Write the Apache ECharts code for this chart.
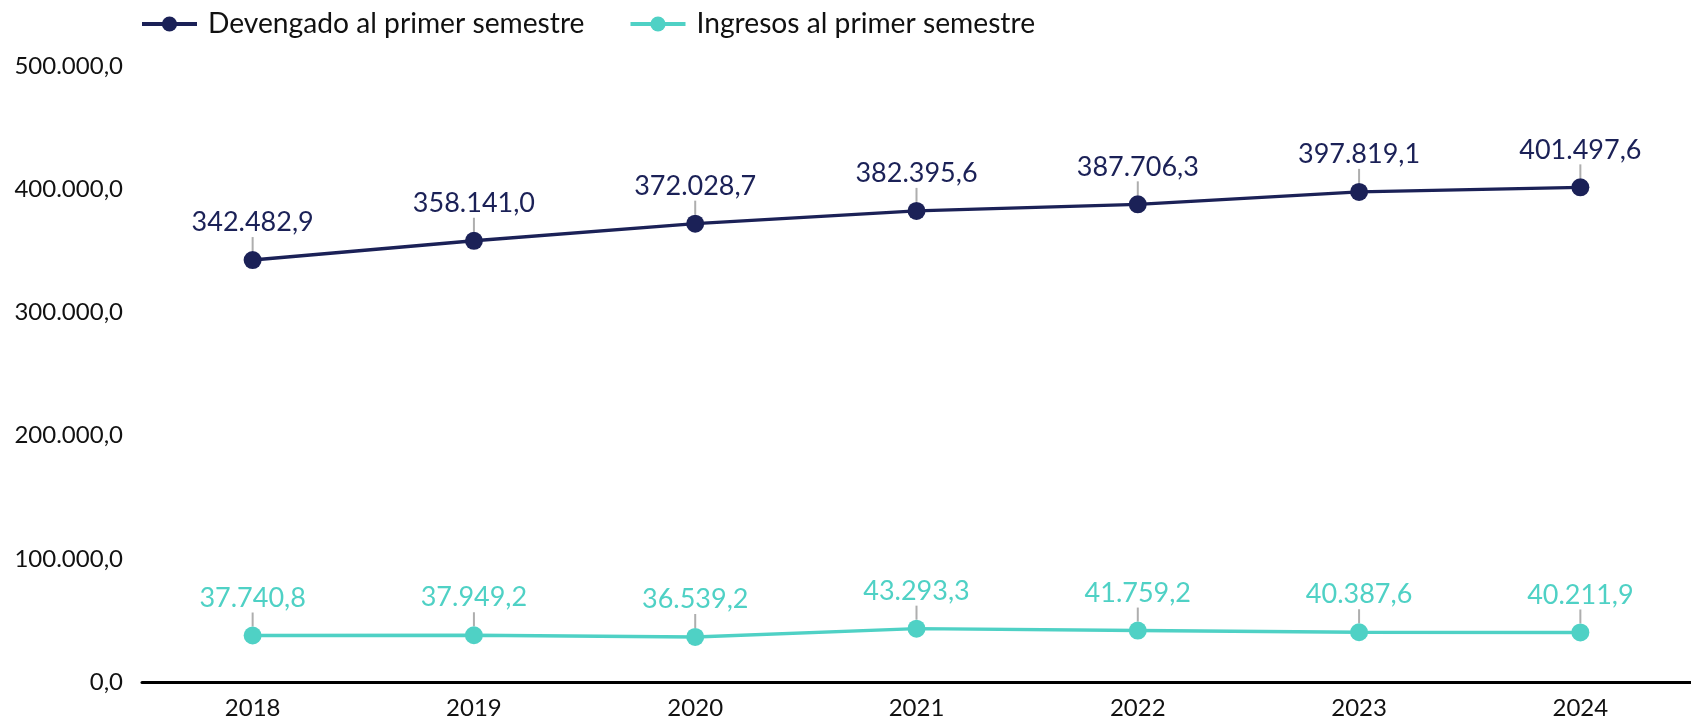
<!DOCTYPE html>
<html>
<head>
<meta charset="utf-8">
<script src="https://cdn.jsdelivr.net/npm/echarts@6/dist/echarts.min.js"></script>
<style>
html,body{margin:0;padding:0;background:#fff;}
#chart{width:1691px;height:723px;}
</style>
</head>
<body>
<div id="chart"></div>
<script>
const categories = ['2018','2019','2020','2021','2022','2023','2024'];
const devengado = [342482.9, 358141.0, 372028.7, 382395.6, 387706.3, 397819.1, 401497.6];
const ingresos = [37740.8, 37949.2, 36539.2, 43293.3, 41759.2, 40387.6, 40211.9];
const seriesNames = ['Devengado al primer semestre', 'Ingresos al primer semestre'];
const yTicks = { min: 0, max: 500000, interval: 100000 };

const NAVY = '#1b2157';
const TEAL = '#4fd1c5';
const FONT = 'Lato';

function fmt(v) {
  const parts = Number(v).toFixed(1).split('.');
  const intPart = parts[0].replace(/\B(?=(\d{3})+(?!\d))/g, '.');
  return intPart + ',' + parts[1];
}

function lineSeries(name, data, color) {
  return {
    name: name,
    type: 'line',
    data: data,
    symbol: 'circle',
    symbolSize: 18,
    z: 3,
    lineStyle: { color: color, width: 3.4 },
    itemStyle: { color: color },
    label: {
      show: true,
      position: 'top',
      distance: 15,
      color: color,
      fontFamily: FONT,
      fontSize: 27,
      formatter: p => fmt(p.value)
    }
  };
}

function leaderSeries(data) {
  return {
    type: 'scatter',
    data: data,
    symbol: 'rect',
    symbolSize: [2, 14],
    symbolOffset: [0, -16],
    itemStyle: { color: '#9a9a9a' },
    z: 2,
    silent: true,
    legendHoverLink: false
  };
}

const chart = echarts.init(document.getElementById('chart'));
chart.setOption({
  animation: false,
  backgroundColor: '#fff',
  legend: {
    data: seriesNames,
    left: 135,
    top: 5,
    itemWidth: 55,
    itemHeight: 19,
    itemGap: 44,
    lineStyle: { width: 4 },
    textStyle: { fontFamily: FONT, fontSize: 28.2, color: '#111', padding: [0, 0, 0, 6] }
  },
  grid: { left: 142, right: 0, top: 66, bottom: 41, containLabel: false },
  xAxis: {
    type: 'category',
    data: categories,
    boundaryGap: true,
    axisLine: { lineStyle: { color: '#000', width: 3 } },
    axisTick: { show: false },
    axisLabel: { fontFamily: FONT, fontSize: 24, color: '#111', margin: 14 }
  },
  yAxis: {
    type: 'value',
    min: yTicks.min,
    max: yTicks.max,
    interval: yTicks.interval,
    splitLine: { show: false },
    axisLine: { show: false },
    axisTick: { show: false },
    axisLabel: { fontFamily: FONT, fontSize: 24, color: '#111', margin: 19, formatter: v => fmt(v) }
  },
  series: [
    lineSeries(seriesNames[0], devengado, NAVY),
    lineSeries(seriesNames[1], ingresos, TEAL),
    leaderSeries(devengado),
    leaderSeries(ingresos)
  ]
});
</script>
</body>
</html>
